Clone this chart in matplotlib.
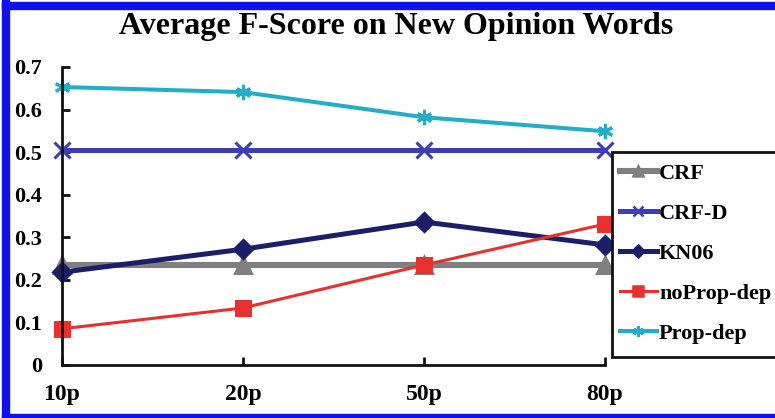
import matplotlib
matplotlib.use("Agg")
import matplotlib.pyplot as plt
from matplotlib.patches import Rectangle
from matplotlib.lines import Line2D

categories = ["10p", "20p", "50p", "80p"]
crf = [0.235, 0.235, 0.235, 0.235]
crf_d = [0.505, 0.505, 0.505, 0.505]
kn06 = [0.218, 0.272, 0.336, 0.282]
noprop_dep = [0.085, 0.134, 0.235, 0.331]
prop_dep = [0.653, 0.641, 0.582, 0.549]
yticks = [0, 0.1, 0.2, 0.3, 0.4, 0.5, 0.6, 0.7]
ytick_labels = ["0", "0.1", "0.2", "0.3", "0.4", "0.5", "0.6", "0.7"]

plt.rcParams['font.family'] = ['Liberation Serif', 'DejaVu Serif']
plt.rcParams['font.weight'] = 'bold'

W, H = 775, 418
fig = plt.figure(figsize=(W / 100, H / 100), dpi=100)
fig.patch.set_facecolor('white')

ax = fig.add_axes([62 / W, 1 - 365 / H, 543 / W, 298 / H])
x = list(range(len(categories)))

series = [
    ("CRF", crf, "#808080", "^", 4.4, 11),
    ("CRF-D", crf_d, "#3c3fb4", "x", 3.6, 11),
    ("KN06", kn06, "#1b1f6a", "D", 3.6, 9),
    ("noProp-dep", noprop_dep, "#e8302f", "s", 2.2, 10),
    ("Prop-dep", prop_dep, "#22aec6", (6, 2, 0), 2.9, 11),
]
handles = []
for name, vals, col, mk, lw, ms in series:
    ax.plot(x, vals, color=col, marker=mk, lw=lw, ms=ms, mew=2.2,
            mec=col, mfc=col, clip_on=False, solid_joinstyle='round')
    handles.append(Line2D([0], [0], color=col, marker=mk, lw=lw, ms=ms * 0.7,
                          mew=1.8, mec=col, mfc=col))

ax.set_xlim(0, 3)
ax.set_ylim(0, 0.7)
ax.set_xticks(x)
ax.set_xticklabels(categories)
ax.set_yticks(yticks)
ax.set_yticklabels(ytick_labels)
for s in ['top', 'right']:
    ax.spines[s].set_visible(False)
for s in ['left', 'bottom']:
    ax.spines[s].set_linewidth(2)
    ax.spines[s].set_color('#111111')
ax.tick_params(axis='both', direction='in', length=6, width=2, color='#111111')
ax.tick_params(axis='x', pad=14, labelsize=17)
ax.tick_params(axis='y', pad=14.5, labelsize=16)
for lab in ax.get_xticklabels() + ax.get_yticklabels():
    lab.set_fontweight('bold')

fig.text(396 / W, 1 - 34 / H, "Average F-Score on New Opinion Words",
         ha='center', va='baseline', fontsize=23, fontweight='bold')

# legend frame (extends past right edge as in the reference)
fig.patches.append(Rectangle((612 / W, 1 - 357 / H), 200 / W, 205 / H,
                             transform=fig.transFigure, facecolor='white',
                             edgecolor='#111111', lw=2, zorder=3))
leg = fig.legend(handles, [s[0] for s in series], loc='upper left',
                 bbox_to_anchor=(620 / W, 1 - 163 / H), frameon=False,
                 handlelength=1.65, handletextpad=0.1,
                 labelspacing=0.88, borderpad=0, borderaxespad=0,
                 prop={'weight': 'bold', 'size': 16})
leg.set_zorder(5)

blue = '#1010ee'
fig.patches.extend([
    Rectangle((2 / W, 0), 7 / W, 1, transform=fig.transFigure, color=blue, zorder=10),
    Rectangle((2 / W, 1 - 9 / H), 1, 7 / H, transform=fig.transFigure, color=blue, zorder=10),
    Rectangle((2 / W, 0), 1, 4 / H, transform=fig.transFigure, color=blue, zorder=10),
])

fig.savefig("out.png", dpi=100)
